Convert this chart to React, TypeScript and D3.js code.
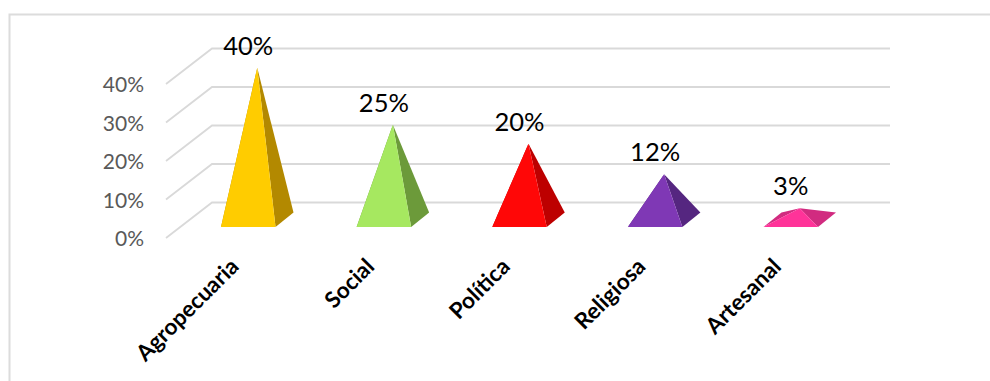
import React from "react";
import * as d3 from "d3";

const categories = ["Agropecuaria", "Social", "Política", "Religiosa", "Artesanal"];
const values = [40, 25, 20, 12, 3];
const valueLabels = ["40%", "25%", "20%", "12%", "3%"];
const frontColors = ["#FFCC00", "#A6E860", "#FF0707", "#7F38B5", "#FF3399"];
const sideColors = ["#B38900", "#6C9A3A", "#BD0000", "#552680", "#D12B80"];
const axisTicks = [0, 10, 20, 30, 40];

const WIDTH = 990;
const HEIGHT = 381;
const FONT = "Lato, 'Noto Sans', sans-serif";

// Oblique projection of the floor: how far the back edge shifts from the front edge.
const DEPTH_X = 18;
const DEPTH_Y = -14.5;
const BASE_Y = 227;

const wallY = d3.scaleLinear().domain([0, 40]).range([202.5, 48.5]);
const rise = d3.scaleLinear().domain([0, 40]).range([0, 152]);
const x = d3.scaleBand<string>().domain(categories).range([221, 818]).paddingInner(0.598).paddingOuter(0).align(0);

const line = d3.line();
const closed = (pts: [number, number][]) => line(pts) + "Z";

export default function App() {
  const w = x.bandwidth();
  return (
    <svg
      width={WIDTH}
      height={HEIGHT}
      viewBox={`0 0 ${WIDTH} ${HEIGHT}`}
      style={{ position: "absolute", left: 0, top: 0, display: "block", background: "#fff" }}
    >
      {/* chart frame, open towards the right and bottom edges */}
      <path d={`M9.5 ${HEIGHT}V14.5H${WIDTH}`} fill="none" stroke="#DCDCDC" strokeWidth={2} />

      {axisTicks.map((t) => {
        const yy = wallY(t);
        return (
          <g key={t}>
            <path
              d={`M166 ${yy + 35.5}L212 ${yy}H890`}
              fill="none"
              stroke="#D9D9D9"
              strokeWidth={1.8}
            />
            <text
              x={144}
              y={yy + 43.5}
              textAnchor="end"
              fontFamily={FONT}
              fontSize={21}
              fill="#595959"
            >
              {t}%
            </text>
          </g>
        );
      })}

      {categories.map((c, i) => {
        const x0 = x(c)!;
        const x1 = x0 + w;
        const fl: [number, number] = [x0, BASE_Y];
        const fr: [number, number] = [x1, BASE_Y];
        const bl: [number, number] = [x0 + DEPTH_X, BASE_Y + DEPTH_Y];
        const br: [number, number] = [x1 + DEPTH_X, BASE_Y + DEPTH_Y];
        const apexY = BASE_Y + DEPTH_Y / 2 - rise(values[i]);
        const apex: [number, number] = [x0 + (w + DEPTH_X) / 2, apexY];
        return (
          <g key={c}>
            <path d={closed([fl, bl, apex])} fill={sideColors[i]} />
            <path d={closed([fr, br, apex])} fill={sideColors[i]} />
            <path d={closed([fl, fr, apex])} fill={frontColors[i]} />
            <text
              x={x0 + w / 2}
              y={apexY - 13}
              textAnchor="middle"
              fontFamily={FONT}
              fontSize={25.5}
              fill="#000"
            >
              {valueLabels[i]}
            </text>
            <text
              transform={`translate(${x0 + 19},${268}) rotate(-45)`}
              textAnchor="end"
              fontFamily={FONT}
              fontSize={22.5}
              fontWeight={700}
              fill="#000"
            >
              {c}
            </text>
          </g>
        );
      })}
    </svg>
  );
}
